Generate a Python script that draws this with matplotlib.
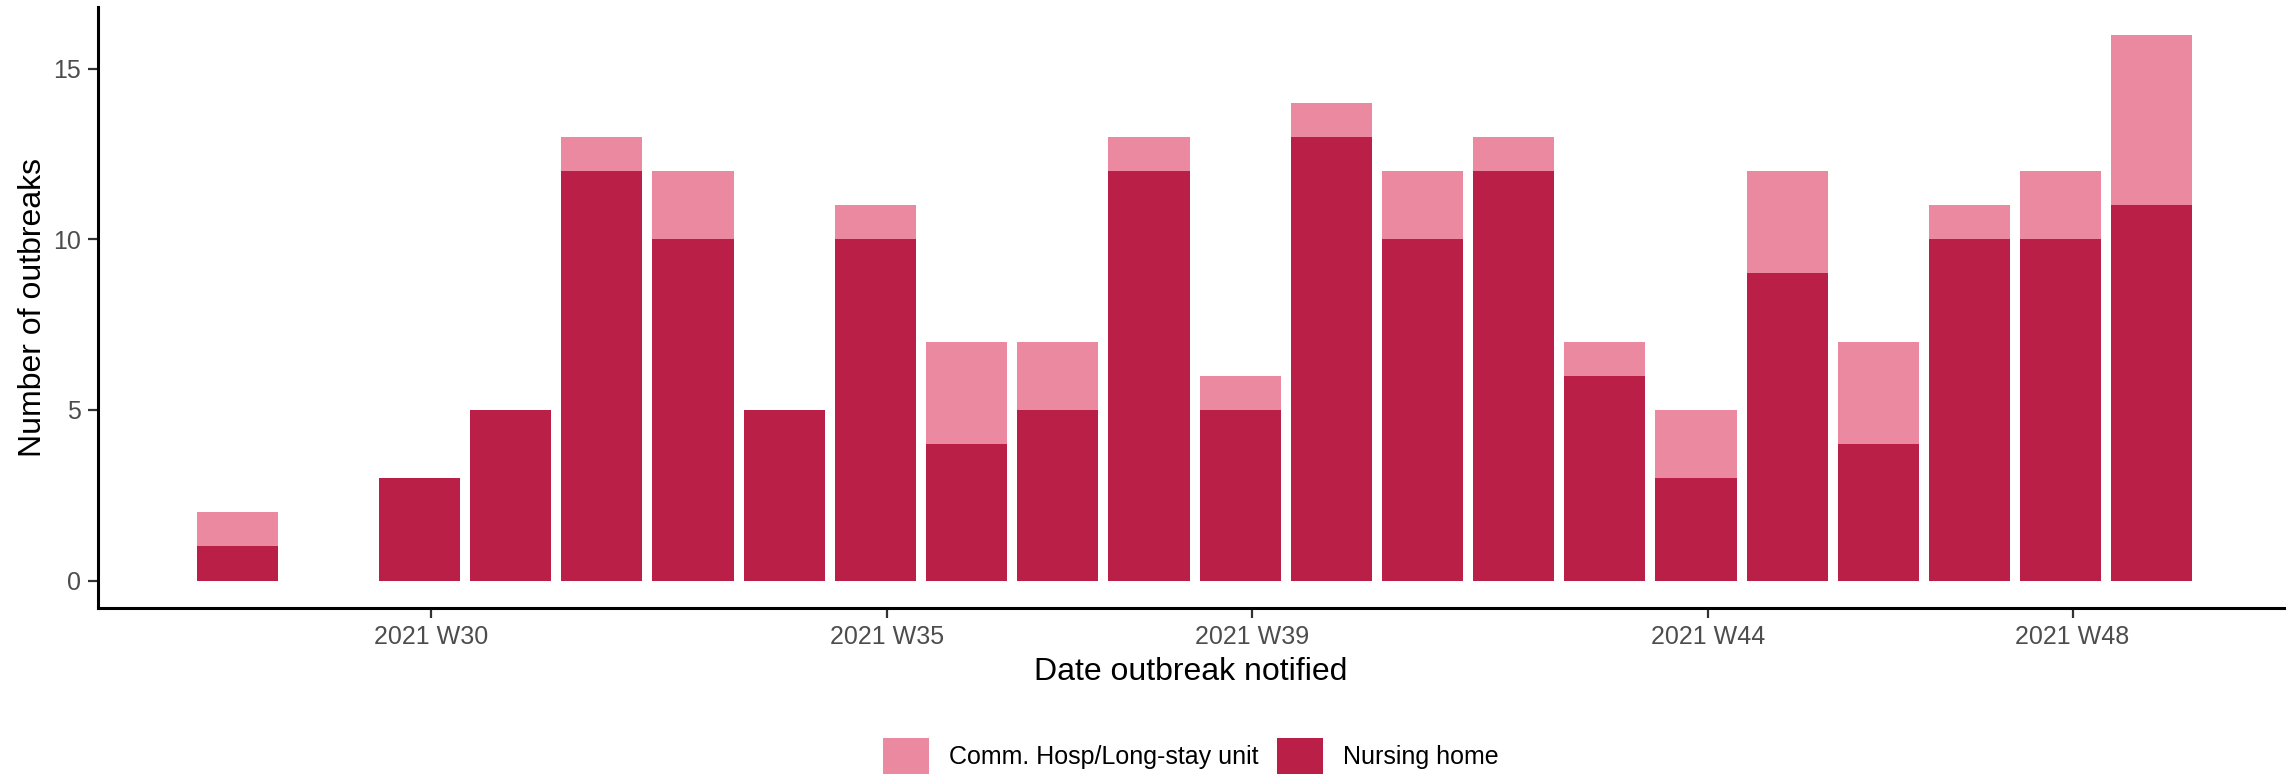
import matplotlib
matplotlib.use("Agg")
import matplotlib.pyplot as plt
import matplotlib.patches as patches
import numpy as np

plt.rcParams['font.family'] = ['Liberation Sans', 'DejaVu Sans']

# weekly outbreak counts (ISO week number, 2021)
weeks = [28, 30, 31, 32, 33, 34, 35, 36, 37, 38, 39, 40, 41, 42, 43, 44, 45, 46, 47, 48, 49]
nursing_home = [1, 3, 5, 12, 10, 5, 10, 4, 5, 12, 5, 13, 10, 12, 6, 3, 9, 4, 10, 10, 11]
comm_hosp = [1, 0, 0, 1, 2, 0, 1, 3, 2, 1, 1, 1, 2, 1, 1, 2, 3, 3, 1, 2, 5]

tick_weeks = [30, 35, 39, 44, 48]
tick_labels = ["2021 W30", "2021 W35", "2021 W39", "2021 W44", "2021 W48"]

dark = "#BA2047"
light = "#EA899F"

fig = plt.figure(figsize=(22.93, 7.8), dpi=100)
ax = fig.add_axes([0.0426, 0.2207, 0.9535, 0.7699])

x = np.array(weeks, dtype=float)
ax.bar(x, nursing_home, width=0.89, color=dark, linewidth=0)
ax.bar(x, comm_hosp, width=0.89, bottom=nursing_home, color=light, linewidth=0)

ax.set_xlim(26.47, 50.45)
ax.set_ylim(-0.8, 16.8)

# ticks sit about one day after the week bar centre (month starts)
ax.set_xticks([w + 0.13 for w in tick_weeks])
ax.set_xticklabels(tick_labels)
ax.set_yticks([0, 5, 10, 15])

for side in ['top', 'right']:
    ax.spines[side].set_visible(False)
for side in ['left', 'bottom']:
    ax.spines[side].set_linewidth(2.2)
    ax.spines[side].set_color('black')

ax.tick_params(axis='both', labelsize=18, colors='#333333', length=7, width=1.6,
               labelcolor='#4D4D4D', pad=5)

ax.set_xlabel("Date outbreak notified", fontsize=23, labelpad=6)
ax.set_ylabel("Number of outbreaks", fontsize=23, labelpad=4)

handles = [patches.Patch(facecolor=light, edgecolor='none', label="Comm. Hosp/Long-stay unit"),
           patches.Patch(facecolor=dark, edgecolor='none', label="Nursing home")]
fig.legend(handles=handles, loc='center', bbox_to_anchor=(0.5194, 0.031), ncol=2,
           frameon=False, fontsize=18, handlelength=1.84, handleheight=1.84,
           handletextpad=0.8, columnspacing=0.75)

fig.savefig("out.png", dpi=100)
